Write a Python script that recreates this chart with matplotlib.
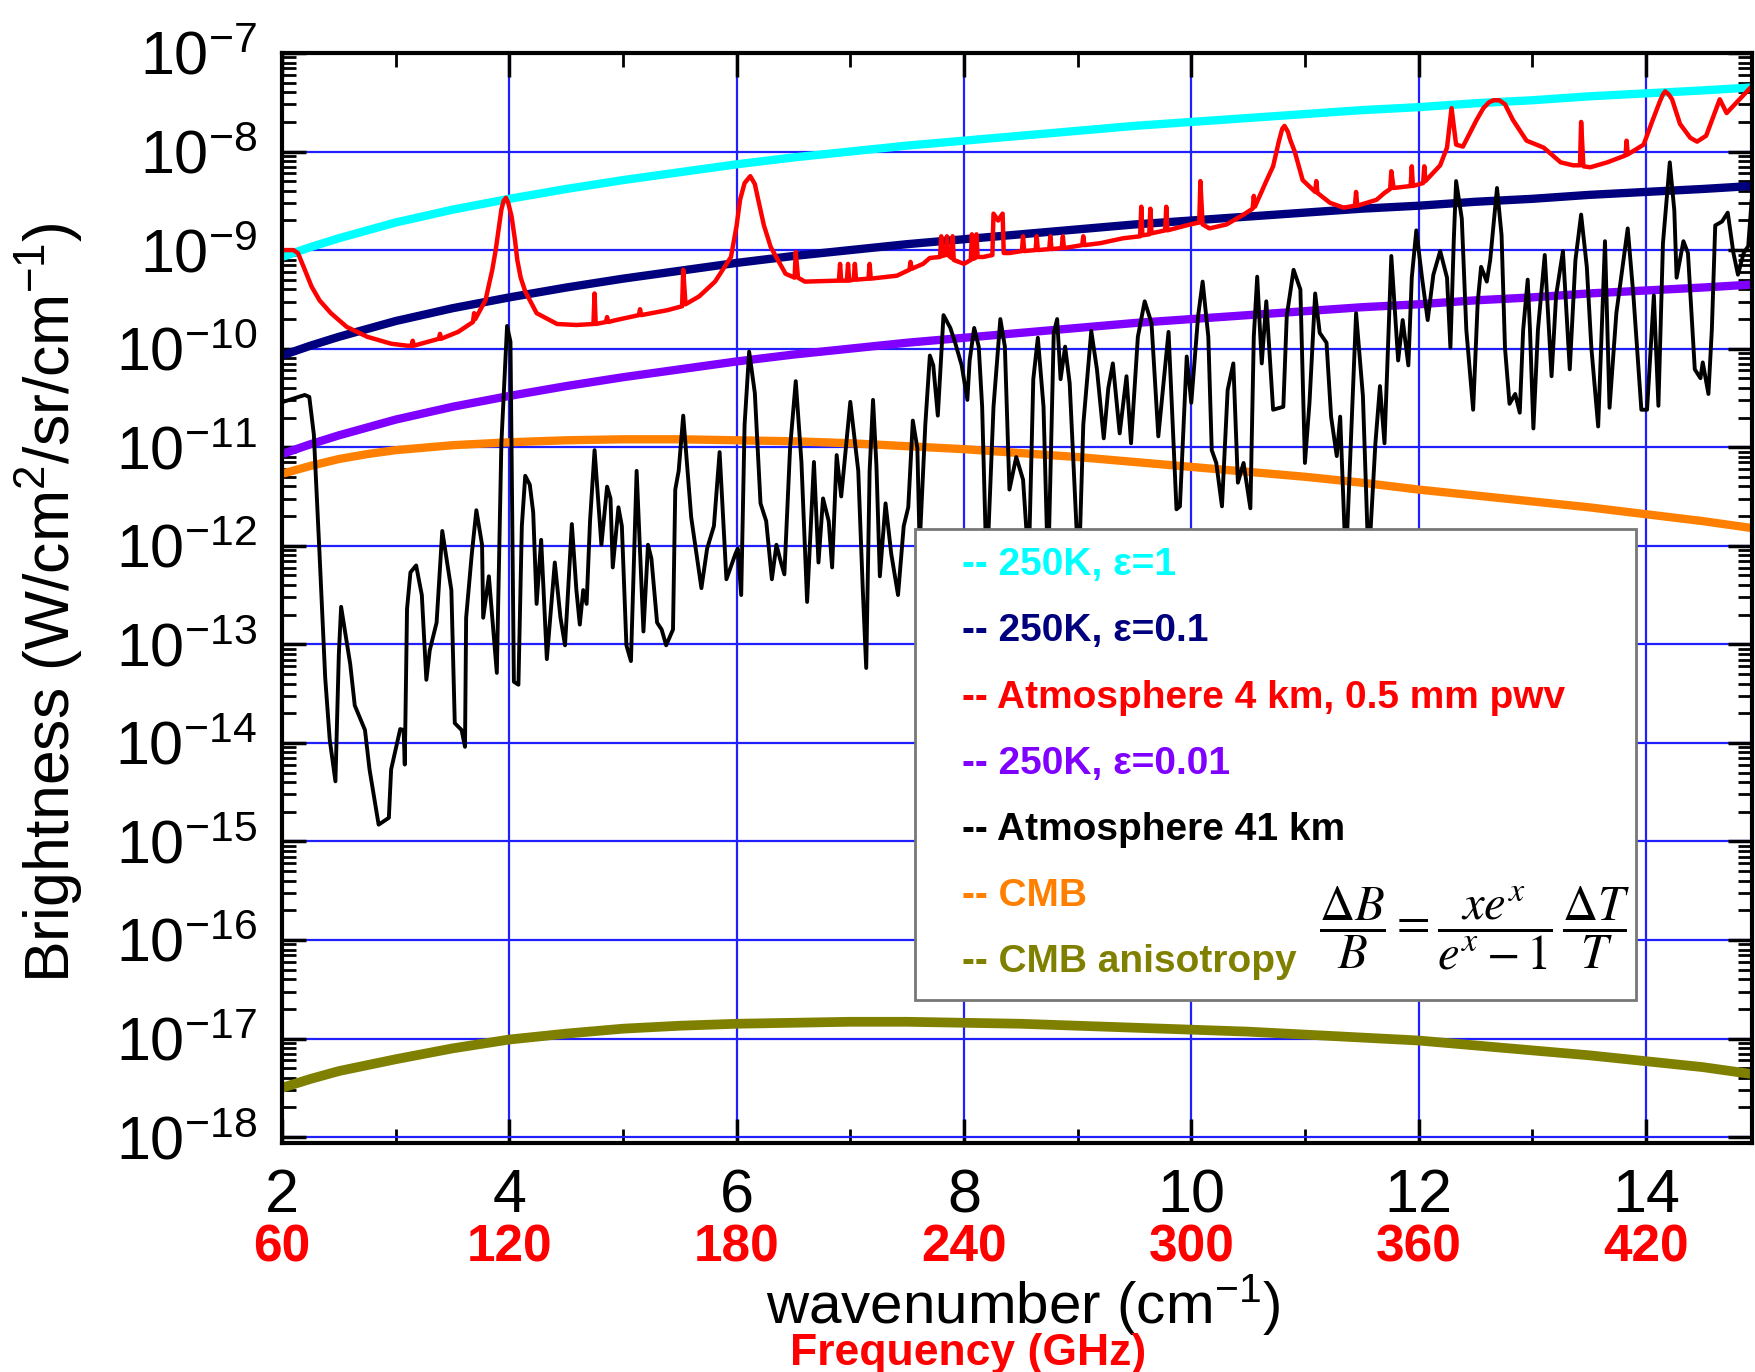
import numpy as np
import matplotlib.pyplot as plt
from matplotlib.ticker import FixedLocator, LogLocator, FuncFormatter, NullFormatter
from matplotlib.patches import Rectangle

plt.rcParams['font.family'] = ['Liberation Sans', 'DejaVu Sans']
plt.rcParams['mathtext.fontset'] = 'custom'
plt.rcParams['mathtext.rm'] = 'Liberation Sans'
plt.rcParams['mathtext.it'] = 'Liberation Sans:italic'
plt.rcParams['mathtext.bf'] = 'Liberation Sans:bold'

# all brightness values as log10(W/cm^2/sr/cm^-1)

# smooth curves
wn_smooth = [2.0, 2.25, 2.5, 2.75, 3.0, 3.5, 4.0, 4.5, 5.0, 5.5, 6.0, 6.5, 7.0, 7.5, 8.0,
             8.5, 9.0, 9.5, 10.0, 10.5, 11.0, 11.5, 12.0, 12.5, 13.0, 13.5, 14.0, 14.5, 14.93]
bb_eps1 = [-9.07, -8.97, -8.88, -8.80, -8.72, -8.59, -8.48, -8.38, -8.29, -8.21, -8.13, -8.06, -8.00, -7.94, -7.89,
           -7.84, -7.79, -7.74, -7.70, -7.66, -7.62, -7.58, -7.55, -7.51, -7.48, -7.44, -7.41, -7.38, -7.35]
bb_eps01 = [-10.07, -9.97, -9.88, -9.80, -9.72, -9.59, -9.48, -9.38, -9.29, -9.21, -9.13, -9.06, -9.00, -8.94, -8.89,
            -8.84, -8.79, -8.74, -8.70, -8.66, -8.62, -8.58, -8.55, -8.51, -8.48, -8.44, -8.41, -8.38, -8.35]
bb_eps001 = [-11.07, -10.97, -10.88, -10.80, -10.72, -10.59, -10.48, -10.38, -10.29, -10.21, -10.13, -10.06, -10.00, -9.94, -9.89,
             -9.84, -9.79, -9.74, -9.70, -9.66, -9.62, -9.58, -9.55, -9.51, -9.48, -9.44, -9.41, -9.38, -9.35]
cmb = [-11.27, -11.19, -11.12, -11.07, -11.03, -10.98, -10.95, -10.93, -10.92, -10.92, -10.93, -10.94, -10.96, -10.99, -11.02,
       -11.06, -11.10, -11.15, -11.20, -11.25, -11.30, -11.36, -11.43, -11.49, -11.55, -11.61, -11.68, -11.75, -11.82]
cmb_aniso = [-17.50, -17.41, -17.33, -17.27, -17.21, -17.10, -17.01, -16.95, -16.90, -16.87, -16.85, -16.84, -16.83, -16.83, -16.84,
             -16.85, -16.87, -16.89, -16.91, -16.93, -16.96, -16.99, -17.02, -17.07, -17.12, -17.17, -17.23, -17.29, -17.36]

# atmosphere 4 km, 0.5 mm pwv
atm4_wn = [2.00, 2.10, 2.14, 2.19, 2.26, 2.33, 2.43, 2.57, 2.75, 2.96, 3.10, 3.14, 3.15, 3.16, 3.38,
           3.39, 3.40, 3.55, 3.68, 3.69, 3.70, 3.79, 3.85, 3.88, 3.91, 3.93, 3.95, 3.97, 3.99, 4.02,
           4.05, 4.07, 4.10, 4.14, 4.24, 4.42, 4.59, 4.74, 4.75, 4.76, 4.85, 4.86, 4.87, 4.94, 5.14,
           5.15, 5.16, 5.39, 5.52, 5.53, 5.55, 5.67, 5.81, 5.95, 6.00, 6.03, 6.07, 6.12, 6.16, 6.19,
           6.24, 6.30, 6.43, 6.51, 6.52, 6.54, 6.60, 6.90, 6.91, 6.92, 6.97, 6.98, 6.99, 7.03, 7.04,
           7.05, 7.16, 7.17, 7.18, 7.41, 7.52, 7.53, 7.54, 7.64, 7.70, 7.79, 7.80, 7.81, 7.84, 7.85,
           7.86, 7.89, 7.90, 7.91, 8.00, 8.06, 8.07, 8.08, 8.10, 8.11, 8.12, 8.17, 8.25, 8.26, 8.30,
           8.34, 8.35, 8.40, 8.51, 8.52, 8.53, 8.63, 8.64, 8.65, 8.75, 8.76, 8.77, 8.86, 8.87, 8.88,
           9.04, 9.05, 9.06, 9.20, 9.40, 9.55, 9.56, 9.57, 9.63, 9.64, 9.65, 9.77, 9.78, 9.79, 9.99,
           10.07, 10.08, 10.10, 10.16, 10.31, 10.46, 10.54, 10.55, 10.56, 10.66, 10.72, 10.77, 10.80, 10.82, 10.85,
           10.87, 10.91, 10.98, 11.09, 11.10, 11.11, 11.22, 11.34, 11.44, 11.45, 11.46, 11.63, 11.70, 11.75, 11.76,
           11.78, 11.93, 11.94, 11.95, 12.04, 12.05, 12.06, 12.19, 12.25, 12.29, 12.33, 12.39, 12.51, 12.57, 12.62,
           12.66, 12.71, 12.76, 12.83, 12.95, 13.10, 13.25, 13.36, 13.42, 13.43, 13.45, 13.51, 13.66, 13.82, 13.83,
           13.84, 13.98, 14.06, 14.12, 14.15, 14.17, 14.20, 14.23, 14.30, 14.39, 14.45, 14.53, 14.65, 14.71, 14.80,
           14.93]
atm4_log = [-9.00, -9.00, -9.03, -9.17, -9.37, -9.51, -9.64, -9.78, -9.88, -9.95, -9.97, -9.97, -9.92, -9.97, -9.90,
            -9.85, -9.90, -9.83, -9.73, -9.64, -9.70, -9.51, -9.20, -9.00, -8.75, -8.59, -8.50, -8.47, -8.52, -8.66,
            -8.90, -9.10, -9.28, -9.42, -9.64, -9.75, -9.76, -9.75, -9.44, -9.75, -9.73, -9.68, -9.73, -9.71, -9.66,
            -9.60, -9.66, -9.61, -9.57, -9.20, -9.55, -9.47, -9.32, -9.07, -8.75, -8.49, -8.32, -8.25, -8.33, -8.49,
            -8.75, -8.97, -9.24, -9.28, -9.02, -9.28, -9.32, -9.31, -9.14, -9.31, -9.31, -9.14, -9.31, -9.30, -9.14,
            -9.30, -9.29, -9.14, -9.29, -9.26, -9.20, -9.12, -9.19, -9.14, -9.08, -9.07, -8.86, -9.06, -9.05, -8.86,
            -9.05, -9.08, -8.86, -9.10, -9.14, -9.10, -8.84, -9.09, -9.08, -8.84, -9.07, -9.07, -9.05, -8.63, -8.70,
            -8.63, -9.03, -9.03, -9.01, -8.86, -9.01, -9.00, -8.86, -9.00, -8.99, -8.86, -8.99, -8.98, -8.86, -8.98,
            -8.95, -8.86, -8.95, -8.93, -8.88, -8.86, -8.56, -8.85, -8.84, -8.58, -8.83, -8.80, -8.56, -8.80, -8.74,
            -8.72, -8.30, -8.74, -8.78, -8.74, -8.64, -8.58, -8.45, -8.56, -8.30, -8.15, -7.90, -7.77, -7.74, -7.80,
            -7.88, -8.00, -8.29, -8.41, -8.30, -8.42, -8.52, -8.57, -8.55, -8.41, -8.55, -8.49, -8.42, -8.38, -8.20,
            -8.37, -8.35, -8.15, -8.35, -8.32, -8.15, -8.30, -8.14, -7.96, -7.56, -7.93, -7.95, -7.68, -7.56, -7.50,
            -7.48, -7.48, -7.52, -7.68, -7.89, -7.96, -8.11, -8.14, -8.14, -7.70, -8.15, -8.16, -8.11, -8.04, -7.89,
            -8.03, -7.93, -7.68, -7.50, -7.42, -7.39, -7.42, -7.47, -7.72, -7.86, -7.90, -7.84, -7.47, -7.61, -7.50,
            -7.34]

# atmosphere 41 km
atm41_wn = [2.01, 2.20, 2.24, 2.28, 2.33, 2.38, 2.42, 2.47, 2.50, 2.52, 2.60, 2.64, 2.73, 2.77, 2.85,
            2.94, 2.96, 3.04, 3.07, 3.08, 3.10, 3.13, 3.18, 3.23, 3.27, 3.30, 3.36, 3.41, 3.49, 3.52,
            3.58, 3.61, 3.62, 3.67, 3.71, 3.76, 3.77, 3.82, 3.84, 3.89, 3.93, 3.98, 4.01, 4.04, 4.08,
            4.11, 4.14, 4.18, 4.21, 4.24, 4.28, 4.33, 4.40, 4.45, 4.49, 4.55, 4.59, 4.62, 4.65, 4.68,
            4.71, 4.75, 4.81, 4.86, 4.89, 4.91, 4.96, 4.99, 5.03, 5.07, 5.12, 5.18, 5.22, 5.25, 5.30,
            5.34, 5.38, 5.44, 5.46, 5.49, 5.53, 5.60, 5.69, 5.74, 5.80, 5.85, 5.91, 5.99, 6.01, 6.04,
            6.07, 6.11, 6.16, 6.21, 6.26, 6.31, 6.35, 6.39, 6.42, 6.47, 6.52, 6.57, 6.62, 6.68, 6.72,
            6.76, 6.81, 6.84, 6.88, 6.92, 7.00, 7.07, 7.11, 7.14, 7.17, 7.20, 7.23, 7.26, 7.31, 7.36,
            7.42, 7.47, 7.51, 7.55, 7.59, 7.61, 7.66, 7.70, 7.73, 7.77, 7.82, 7.88, 7.92, 7.98, 8.03,
            8.05, 8.09, 8.13, 8.16, 8.20, 8.26, 8.32, 8.36, 8.40, 8.46, 8.52, 8.57, 8.61, 8.65, 8.70,
            8.74, 8.79, 8.82, 8.85, 8.89, 8.93, 9.01, 9.05, 9.12, 9.17, 9.23, 9.27, 9.31, 9.37, 9.43,
            9.47, 9.53, 9.59, 9.65, 9.71, 9.80, 9.87, 9.90, 9.96, 10.00, 10.06, 10.10, 10.15, 10.18, 10.22,
            10.27, 10.32, 10.37, 10.41, 10.46, 10.52, 10.55, 10.58, 10.62, 10.66, 10.72, 10.81, 10.84, 10.90, 10.96,
            11.00, 11.04, 11.09, 11.13, 11.19, 11.23, 11.28, 11.31, 11.36, 11.45, 11.51, 11.56, 11.62, 11.66, 11.70,
            11.76, 11.82, 11.86, 11.91, 11.94, 11.98, 12.03, 12.08, 12.13, 12.19, 12.25, 12.28, 12.31, 12.33, 12.38,
            12.42, 12.48, 12.52, 12.55, 12.60, 12.63, 12.69, 12.73, 12.76, 12.80, 12.85, 12.89, 12.92, 12.96, 12.98,
            13.01, 13.05, 13.11, 13.17, 13.21, 13.27, 13.33, 13.38, 13.43, 13.48, 13.52, 13.58, 13.64, 13.68, 13.74,
            13.84, 13.89, 13.96, 14.01, 14.07, 14.11, 14.15, 14.21, 14.25, 14.27, 14.33, 14.37, 14.43, 14.48, 14.50,
            14.55, 14.58, 14.61, 14.67, 14.72, 14.77, 14.81, 14.86, 14.90, 14.93]
atm41_log = [-10.54, -10.47, -10.49, -10.87, -12.08, -13.34, -13.97, -14.39, -13.10, -12.62, -13.20, -13.62, -13.87, -14.27, -14.83,
             -14.76, -14.27, -13.86, -13.87, -14.22, -12.64, -12.27, -12.20, -12.50, -13.36, -13.06, -12.78, -11.85, -12.45, -13.80,
             -13.87, -14.04, -12.73, -12.08, -11.64, -11.99, -12.73, -12.31, -12.59, -13.29, -10.96, -9.77, -9.93, -13.38, -13.41,
             -11.80, -11.29, -11.38, -11.66, -12.59, -11.94, -13.15, -12.17, -12.73, -13.01, -11.78, -12.45, -12.80, -12.45, -12.59,
             -11.75, -11.03, -11.99, -11.40, -11.52, -12.22, -11.61, -11.80, -13.01, -13.17, -11.24, -12.87, -11.99, -12.13, -12.78,
             -12.85, -13.01, -12.85, -11.43, -11.24, -10.68, -11.71, -12.43, -12.03, -11.80, -11.05, -12.34, -12.08, -12.03, -12.50,
             -10.77, -10.03, -10.45, -11.57, -11.75, -12.34, -11.99, -12.17, -12.29, -11.01, -10.33, -11.15, -12.57, -11.15, -12.17,
             -11.52, -11.75, -12.22, -11.08, -11.50, -10.54, -11.24, -12.45, -13.24, -11.24, -10.52, -11.19, -12.31, -11.57, -12.08,
             -12.50, -11.80, -11.61, -10.73, -11.01, -12.00, -10.77, -10.07, -10.17, -10.68, -9.66, -9.79, -9.93, -10.17, -10.52,
             -10.12, -9.79, -9.98, -10.59, -12.30, -10.59, -9.70, -9.98, -11.43, -11.10, -11.33, -12.20, -10.31, -9.89, -10.59,
             -12.30, -9.84, -9.70, -10.31, -9.98, -10.35, -12.30, -10.77, -9.82, -10.21, -10.91, -10.40, -10.15, -10.86, -10.28,
             -10.96, -9.88, -9.52, -9.74, -10.89, -9.83, -11.63, -11.60, -10.08, -10.55, -9.67, -9.32, -9.88, -11.03, -11.16,
             -11.60, -10.42, -10.15, -11.36, -11.16, -11.62, -9.88, -9.27, -10.15, -9.52, -10.62, -10.59, -9.67, -9.20, -9.40,
             -11.16, -10.55, -9.44, -9.84, -9.94, -10.69, -11.09, -10.69, -12.20, -9.64, -10.48, -12.20, -10.96, -10.38, -10.96,
             -9.06, -10.12, -9.71, -10.17, -9.28, -8.80, -9.28, -9.71, -9.25, -9.01, -9.28, -9.99, -8.89, -8.30, -8.68,
             -9.81, -10.62, -9.53, -9.17, -9.32, -9.10, -8.37, -8.85, -9.99, -10.56, -10.46, -10.65, -9.81, -9.30, -9.81,
             -10.81, -9.81, -9.05, -10.28, -9.46, -9.01, -10.21, -9.10, -8.64, -9.17, -9.99, -10.79, -8.91, -10.60, -9.64,
             -8.78, -9.46, -10.62, -10.62, -9.46, -10.58, -8.93, -8.11, -8.60, -9.28, -8.91, -9.03, -10.21, -10.30, -10.14,
             -10.46, -9.81, -8.75, -8.71, -8.62, -9.03, -9.25, -9.03, -8.96, -8.50]

# axis labels / ticks
x_ticks = [2, 4, 6, 8, 10, 12, 14]
x_minor = [3, 5, 7, 9, 11, 13]
freq_ghz = [60, 120, 180, 240, 300, 360, 420]

legend_labels = ['-- 250K, \u03b5=1', '-- 250K, \u03b5=0.1', '-- Atmosphere 4 km, 0.5 mm pwv',
                 '-- 250K, \u03b5=0.01', '-- Atmosphere 41 km', '-- CMB', '-- CMB anisotropy']
legend_colors = ['#00ffff', '#00007f', '#ff0000', '#7f00ff', '#000000', '#ff8000', '#808000']

fig = plt.figure(figsize=(17.56, 13.72), dpi=100)
ax = fig.add_axes([0.1606, 0.1669, 0.8369, 0.7945])

# thick smooth curves first, then the two atmosphere spectra on top
ax.semilogy(wn_smooth, 10.0 ** np.array(bb_eps1), color='#00ffff', lw=6, solid_capstyle='butt')
ax.semilogy(wn_smooth, 10.0 ** np.array(bb_eps01), color='#00007f', lw=6, solid_capstyle='butt')
ax.semilogy(wn_smooth, 10.0 ** np.array(bb_eps001), color='#7f00ff', lw=6, solid_capstyle='butt')
ax.semilogy(wn_smooth, 10.0 ** np.array(cmb), color='#ff8000', lw=6, solid_capstyle='butt')
ax.semilogy(wn_smooth, 10.0 ** np.array(cmb_aniso), color='#808000', lw=7, solid_capstyle='butt')
ax.semilogy(atm4_wn, 10.0 ** np.array(atm4_log), color='#ff0000', lw=3.2)
ax.semilogy(atm41_wn, 10.0 ** np.array(atm41_log), color='black', lw=2.8)

ax.set_xlim(2, 14.93)
ax.set_ylim(10 ** -18.06, 1e-7)

ax.xaxis.set_major_locator(FixedLocator(x_ticks))
ax.xaxis.set_minor_locator(FixedLocator(x_minor))
ax.xaxis.set_major_formatter(FuncFormatter(lambda v, p: '%d' % v))
ax.yaxis.set_major_locator(LogLocator(base=10, numticks=30))
ax.yaxis.set_minor_locator(LogLocator(base=10, subs=np.arange(2, 10) * 1.0, numticks=300))
ax.yaxis.set_minor_formatter(NullFormatter())
ax.yaxis.set_major_formatter(FuncFormatter(lambda v, p: r'$10^{%d}$' % round(np.log10(v))))

ax.tick_params(which='both', direction='in', top=True, right=True)
ax.tick_params(which='major', length=17, width=2.5, labelsize=44, pad=18)
ax.tick_params(which='minor', length=10, width=2)
for s in ax.spines.values():
    s.set_linewidth(3)

ax.grid(True, which='major', color='#2020ff', lw=1.6)
ax.set_axisbelow(True)

# frequency labels under the wavenumber ticks
for wn, f in zip(x_ticks, freq_ghz):
    ax.text(wn, -0.0963, str(f), transform=ax.get_xaxis_transform(), color='red',
            fontsize=37, fontweight='bold', ha='center', va='center')

ax.text(0.504, -0.1477, 'wavenumber (cm$^{-1}$)', transform=ax.transAxes,
        fontsize=42, ha='center', va='center')
ax.text(0.4667, -0.1935, 'Frequency (GHz)', transform=ax.transAxes, color='red',
        fontsize=32, fontweight='bold', ha='center', va='center')
ax.text(-0.158, 0.496, 'Brightness (W/cm$^2$/sr/cm$^{-1}$)', transform=ax.transAxes,
        fontsize=45, rotation=90, ha='center', va='center')

# legend box with coloured text entries
ax.add_patch(Rectangle((0.431, 0.131), 0.490, 0.432, transform=ax.transAxes,
                       facecolor='white', edgecolor='#777777', lw=2, zorder=5))
for i, (lab, col) in enumerate(zip(legend_labels, legend_colors)):
    ax.text(0.463, 0.530 - i * 0.0607, lab, transform=ax.transAxes, color=col,
            fontsize=28, fontweight='bold', ha='left', va='center', zorder=6)
ax.text(0.812, 0.197, r'$\dfrac{\Delta B}{B}=\dfrac{x e^{x}}{e^{x}-1}\,\dfrac{\Delta T}{T}$',
        transform=ax.transAxes, math_fontfamily='stix', fontsize=35,
        ha='center', va='center', zorder=6)

fig.savefig('out.png', dpi=100)
